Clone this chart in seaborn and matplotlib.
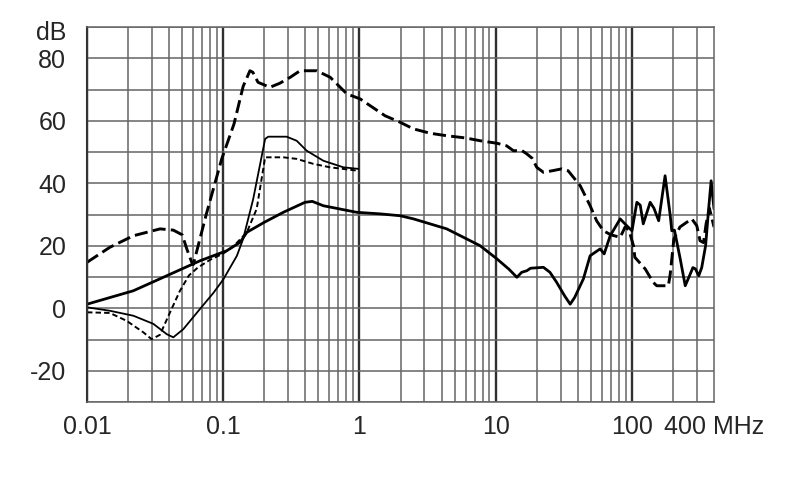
import numpy as np
import pandas as pd
import seaborn as sns
import matplotlib.pyplot as plt

# curve values (frequency in MHz, level in dB)
a_x = [0.01, 0.0147, 0.0219, 0.0344, 0.043, 0.05, 0.054, 0.0587, 0.0603, 0.075, 0.0975, 0.12, 0.14, 0.157, 0.165,
       0.18, 0.22, 0.26, 0.31, 0.366, 0.486, 0.61, 0.807, 1.01, 1.54, 1.99, 2.49, 3.3, 4.37, 6.0, 7.69, 10.2, 12.0,
       13.5, 15.5, 16.9, 18.5, 20.0, 22.4, 26.0, 30.5, 34.0, 41.7, 49.3, 55.0, 61.7, 70.0, 82.0, 89.0, 95.0, 102.6,
       105.0, 125.0, 143.0, 152.0, 185.0, 191.0, 203.0, 225.0, 252.0, 275.0, 299.0, 316.0, 335.0, 350.0, 370.0,
       385.0, 400.0]
a_y = [14.7, 19.5, 23.2, 25.4, 25.0, 23.5, 19.0, 14.7, 14.0, 30.0, 47.8, 59.0, 71.0, 76.0, 75.5,
       72.3, 70.7, 72.0, 73.9, 76.0, 76.0, 73.9, 68.6, 67.0, 61.6, 59.5, 57.4, 56.0, 55.2, 54.5, 53.6, 52.8, 52.0,
       50.4, 50.5, 49.4, 48.0, 45.1, 43.5, 44.0, 44.6, 44.0, 39.2, 32.8, 28.0, 24.8, 23.5, 22.7, 26.0, 25.0, 20.0,
       16.3, 12.6, 8.3, 7.2, 7.2, 11.0, 22.2, 26.0, 27.5, 28.6, 26.4, 21.6, 21.0, 27.0, 32.0,
       29.0, 26.0]

b_x = [0.01, 0.0219, 0.0385, 0.0676, 0.106, 0.133, 0.149, 0.2, 0.276, 0.398, 0.45, 0.543, 0.955, 1.42, 1.99,
       2.49, 4.37, 7.69, 10.2, 12.5, 14.3, 15.5, 16.9, 18.0, 22.4, 25.0, 28.0, 32.0, 35.2, 38.0, 44.0, 49.3, 58.4,
       62.5, 69.2, 81.9, 91.6, 100.0, 108.6, 115.0, 121.0, 136.0, 145.0, 157.0, 175.0, 191.0, 196.0, 205.0, 226.0,
       246.0, 265.0, 280.0, 292.0, 309.0, 325.0, 347.0, 367.0, 381.0, 400.0]
b_y = [1.3, 5.6, 10.4, 15.2, 18.4, 21.1, 24.3, 27.5, 30.7, 33.9, 34.2, 32.8, 30.7, 30.2, 29.6,
       28.6, 25.4, 20.0, 15.8, 12.5, 9.9, 11.5, 12.0, 12.8, 13.1, 11.5, 8.3, 4.0, 1.3, 3.5, 9.4, 16.8, 19.0,
       17.4, 23.2, 28.6, 26.4, 24.8, 33.9, 33.0, 27.0, 33.9, 32.0, 28.0, 42.4, 29.6, 24.8, 25.0, 15.8,
       7.2, 10.5, 13.0, 12.6, 10.4, 13.0, 20.0, 32.8, 40.8, 31.8]

c_x = [0.01, 0.0147, 0.0219, 0.0307, 0.0385, 0.043, 0.0509, 0.0676, 0.085, 0.1, 0.126, 0.14, 0.166, 0.203, 0.214,
       0.292, 0.346, 0.41, 0.543, 0.762, 0.98]
c_y = [0.3, -0.8, -2.4, -5.0, -8.3, -9.3, -6.7, -0.2, 5.0, 9.2, 16.8, 22.2, 35.0, 54.2, 54.9,
       54.9, 53.6, 50.4, 47.2, 45.1, 44.6]

d_x = [0.01, 0.0147, 0.0195, 0.0259, 0.0298, 0.0343, 0.0407, 0.048, 0.056, 0.065, 0.08, 0.1, 0.12, 0.149, 0.176,
       0.203, 0.276, 0.346, 0.459, 0.608, 0.98]
d_y = [-1.3, -1.5, -4.0, -7.7, -9.9, -8.5, -1.3, 5.5, 10.5, 13.0, 15.5, 17.5, 20.0, 24.3, 31.8,
       48.3, 48.3, 47.8, 46.2, 45.1, 44.0]

x_ticks = [0.01, 0.1, 1, 10, 100, 400]
x_labels = ["0.01", "0.1", "1", "10", "100", "400 MHz"]
y_ticks = [-20, 0, 20, 40, 60, 80]

sns.set_style("white")
plt.rcParams['font.family'] = ['Liberation Sans', 'DejaVu Sans']
plt.rcParams['axes.unicode_minus'] = False

fig = plt.figure(figsize=(7.9, 4.99), dpi=100)
ax = fig.add_axes([87 / 790, 1 - 402 / 499, (714 - 87) / 790, (402 - 27) / 499])
ax.set_xscale("log")

#Long dashed, thick solid, thin solid, short dashed
sns.lineplot(x=a_x, y=a_y, ax=ax, color="black", lw=2.1, linestyle=(0, (4.5, 1.8)), estimator=None, sort=False)
sns.lineplot(x=b_x, y=b_y, ax=ax, color="black", lw=2.0, estimator=None, sort=False)
sns.lineplot(x=c_x, y=c_y, ax=ax, color="black", lw=1.3, estimator=None, sort=False)
sns.lineplot(x=d_x, y=d_y, ax=ax, color="black", lw=1.4, linestyle=(0, (2.8, 1.6)), estimator=None, sort=False)

ax.set_xlim(0.01, 400)
ax.set_ylim(-30, 90)

#Grid
minor_x = [m * 10.0 ** e for e in range(-2, 2) for m in range(2, 10)] + [200, 300]
ax.set_xticks(x_ticks)
ax.set_xticklabels(x_labels)
ax.set_xticks(minor_x, minor=True)
ax.set_yticks(y_ticks)
ax.set_yticks(np.arange(-30, 91, 10), minor=True)
ax.grid(which="major", axis="x", color="#303030", lw=1.7)
ax.grid(which="minor", axis="both", color="#656565", lw=1.1)
ax.grid(which="major", axis="y", color="#656565", lw=1.1)
ax.xaxis.get_major_ticks()[-1].gridline.set_visible(False)
ax.set_axisbelow(True)

ax.tick_params(which="both", length=0)
ax.tick_params(axis="x", pad=9, labelsize=18)
ax.tick_params(axis="y", pad=15, labelsize=18)
ax.annotate("dB", xy=(0, 90), xycoords=("axes fraction", "data"), xytext=(-15, -4.5),
            textcoords="offset points", ha="right", va="center", fontsize=18)

for s in ax.spines.values():
    s.set_color("#656565")
    s.set_linewidth(1.1)
ax.spines["left"].set_color("#333333")
ax.spines["left"].set_linewidth(1.5)

ax.set(xlabel="", ylabel="")
fig.savefig("out.png", dpi=100)
